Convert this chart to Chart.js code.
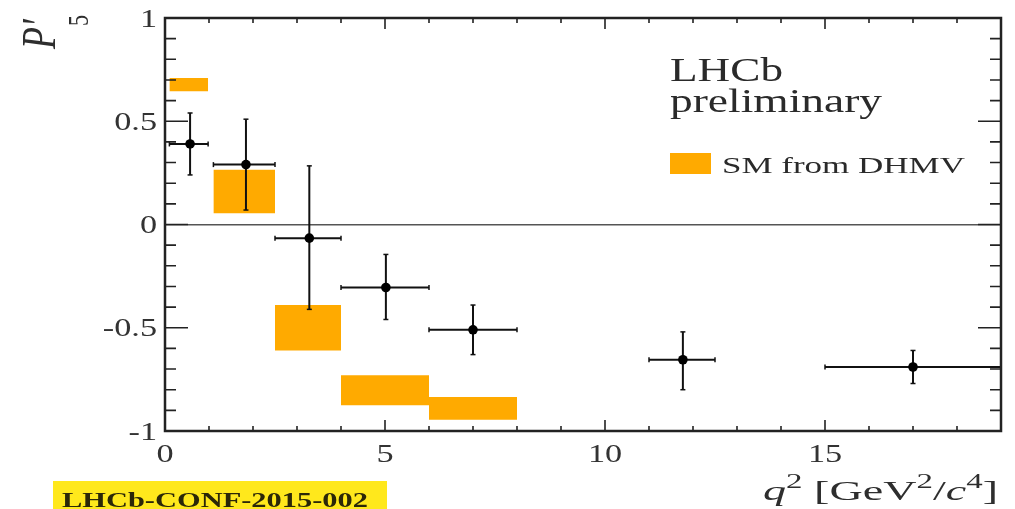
<!DOCTYPE html>
<html>
<head>
<meta charset="utf-8">
<script src="https://cdn.jsdelivr.net/npm/chart.js@4.4.1/dist/chart.umd.min.js"></script>
<style>
  html, body { margin: 0; padding: 0; background: #fff; }
  canvas { display: block; }
</style>
</head>
<body>
<canvas id="c" width="1015" height="509"></canvas>
<script>
// P5' measured in bins of q^2 [GeV^2/c^4]
const binLo  = [0.10, 1.10, 2.50, 4.00, 6.00, 11.00, 15.00];
const binHi  = [0.98, 2.50, 4.00, 6.00, 8.00, 12.50, 19.00];
const qMean  = [0.57, 1.84, 3.28, 5.02, 7.00, 11.77, 17.00];
const p5Val  = [0.39, 0.29, -0.066, -0.305, -0.51, -0.655, -0.69];
const errUp  = [0.15, 0.22, 0.35, 0.16, 0.12, 0.135, 0.08];
const errDn  = [0.15, 0.22, 0.345, 0.155, 0.12, 0.145, 0.08];

// Standard Model prediction bands (DHMV)
const smLo  = [0.10, 1.10, 2.50, 4.00, 6.00];
const smHi  = [0.98, 2.50, 4.00, 6.00, 8.00];
const smMin = [0.645, 0.055, -0.61, -0.875, -0.945];
const smMax = [0.710, 0.265, -0.39, -0.730, -0.835];

// Axis ranges and labelled tick steps
const xRange = [0, 19];
const yRange = [-1, 1];
const xMajorStep = 5;
const yMajorStep = 0.5;

const SERIF = '"Liberation Serif", "Times New Roman", serif';
const SM_COLOR = '#ffaa00';
const INK = '#111';
const HSTRETCH = 1.37;

// Short numeric labels: 1, 0.5, 0, -0.5, -1
const fmtTick = v => String(Math.round(v * 10) / 10);

// Text helper: draws horizontally stretched text; if width is given, fits it exactly.
function drawText(ctx, text, x, y, font, align, color, width) {
  ctx.save();
  ctx.font = font;
  ctx.fillStyle = color;
  ctx.textAlign = 'left';
  ctx.textBaseline = 'alphabetic';
  const natural = ctx.measureText(text).width;
  const sx = width ? width / natural : HSTRETCH;
  const w = natural * sx;
  const x0 = align === 'right' ? x - w : align === 'center' ? x - w / 2 : x;
  ctx.translate(x0, y);
  ctx.scale(sx, 1);
  ctx.fillText(text, 0, 0);
  ctx.restore();
}

// Mixed-font text run (superscripts, italics), right-aligned and fitted to width.
function drawRich(ctx, segs, xRight, baseline, width, color) {
  ctx.save();
  ctx.fillStyle = color;
  ctx.textBaseline = 'alphabetic';
  ctx.textAlign = 'left';
  let total = 0;
  segs.forEach(s => { ctx.font = s.font; s.w = ctx.measureText(s.t).width; total += s.w; });
  const sx = width / total;
  ctx.translate(xRight - width, baseline);
  ctx.scale(sx, 1);
  let cx = 0;
  segs.forEach(s => { ctx.font = s.font; ctx.fillText(s.t, cx, -(s.rise || 0)); cx += s.w; });
  ctx.restore();
}

const datasets = [];

smLo.forEach((lo, i) => {
  datasets.push({
    label: 'SM from DHMV',
    data: [{ x: lo, y: smMax[i] }, { x: smHi[i], y: smMax[i] }],
    fill: { value: smMin[i] },
    backgroundColor: SM_COLOR,
    borderColor: 'rgba(0,0,0,0)',
    borderWidth: 0,
    pointRadius: 0,
    order: 3
  });
});

binLo.forEach((lo, i) => {
  // horizontal bar: bin width
  datasets.push({
    label: 'bin',
    data: [{ x: lo, y: p5Val[i] }, { x: binHi[i], y: p5Val[i] }],
    borderColor: INK,
    borderWidth: 2,
    fill: false,
    pointStyle: 'line',
    rotation: 90,
    pointRadius: 2.5,
    pointBorderColor: INK,
    pointBorderWidth: 1.5,
    order: 2
  });
  // vertical bar: uncertainty
  datasets.push({
    label: 'err',
    data: [{ x: qMean[i], y: p5Val[i] - errDn[i] }, { x: qMean[i], y: p5Val[i] + errUp[i] }],
    borderColor: INK,
    borderWidth: 2,
    fill: false,
    pointStyle: 'line',
    rotation: 0,
    pointRadius: 2.5,
    pointBorderColor: INK,
    pointBorderWidth: 1.5,
    order: 2
  });
});

datasets.push({
  label: 'LHCb',
  data: qMean.map((x, i) => ({ x, y: p5Val[i] })),
  showLine: false,
  pointRadius: 4.8,
  pointBackgroundColor: '#000',
  pointBorderWidth: 0,
  order: 1
});

// Frame, inward ticks, tick labels and annotations
const decorations = {
  id: 'decorations',
  afterDatasetsDraw(chart) {
    const { ctx, chartArea: ca } = chart;
    const xs = chart.scales.x, ys = chart.scales.y;
    ctx.save();
    ctx.strokeStyle = '#222';
    ctx.lineWidth = 1.6;
    ctx.beginPath();
    for (let v = xRange[0]; v <= xRange[1]; v++) {
      const px = xs.getPixelForValue(v);
      const len = v % xMajorStep === 0 ? 11 : 5;
      ctx.moveTo(px, ca.bottom); ctx.lineTo(px, ca.bottom - len);
      ctx.moveTo(px, ca.top); ctx.lineTo(px, ca.top + len);
    }
    for (let k = -10; k <= 10; k++) {
      const py = ys.getPixelForValue(k / 10);
      const len = k % 5 === 0 ? 23 : 11;
      ctx.moveTo(ca.left, py); ctx.lineTo(ca.left + len, py);
      ctx.moveTo(ca.right, py); ctx.lineTo(ca.right - len, py);
    }
    ctx.stroke();
    ctx.lineWidth = 2.5;
    ctx.strokeRect(ca.left, ca.top, ca.right - ca.left, ca.bottom - ca.top);
    ctx.restore();
  },
  afterDraw(chart) {
    const { ctx, chartArea: ca } = chart;
    const xs = chart.scales.x, ys = chart.scales.y;
    const tickFont = '25px ' + SERIF;
    const tickColor = '#333';

    ys.ticks.forEach(t => {
      const py = ys.getPixelForValue(t.value);
      drawText(ctx, fmtTick(t.value), ca.left - 8, py + 8.5, tickFont, 'right', tickColor);
    });
    xs.ticks.forEach(t => {
      if (Math.abs(t.value % xMajorStep) > 1e-9) return;
      const px = xs.getPixelForValue(t.value);
      drawText(ctx, fmtTick(t.value), px, 462, tickFont, 'center', tickColor);
    });

    // x-axis title
    drawRich(ctx, [
      { t: 'q', font: 'italic 28px ' + SERIF },
      { t: '2', font: '20px ' + SERIF, rise: 12 },
      { t: ' [GeV', font: '28px ' + SERIF },
      { t: '2', font: '20px ' + SERIF, rise: 12 },
      { t: '/', font: '28px ' + SERIF },
      { t: 'c', font: 'italic 28px ' + SERIF },
      { t: '4', font: '20px ' + SERIF, rise: 12 },
      { t: ']', font: '28px ' + SERIF }
    ], 998, 500, 235, '#2e2e2e');

    // y-axis title, rotated
    ctx.save();
    ctx.fillStyle = '#2e2e2e';
    ctx.textBaseline = 'alphabetic';
    ctx.textAlign = 'left';
    ctx.translate(55, 49);
    ctx.scale(HSTRETCH, 1);
    ctx.rotate(-Math.PI / 2);
    ctx.font = 'italic 36px ' + SERIF;
    ctx.fillText('P\u2032', 0, 0);
    ctx.font = '22px ' + SERIF;
    ctx.fillText('5', 23, 24);
    ctx.restore();

    // experiment label
    drawText(ctx, 'LHCb', 670, 81, '33px ' + SERIF, 'left', '#2a2a2a', 113);
    drawText(ctx, 'preliminary', 670, 112, '33px ' + SERIF, 'left', '#2a2a2a', 212);

    // legend entry for the SM band
    ctx.save();
    ctx.fillStyle = chart.data.datasets[0].backgroundColor;
    ctx.fillRect(670, 153, 41, 21);
    ctx.restore();
    drawText(ctx, chart.data.datasets[0].label, 722, 173, '23px ' + SERIF, 'left', '#2a2a2a', 243);

    // document reference tag
    ctx.save();
    ctx.fillStyle = '#ffe81c';
    ctx.fillRect(53, 481, 334, 28);
    ctx.restore();
    drawText(ctx, 'LHCb-CONF-2015-002', 62, 507, 'bold 22px ' + SERIF, 'left', '#2b2708', 306);
  }
};

new Chart(document.getElementById('c'), {
  type: 'line',
  data: { datasets },
  options: {
    responsive: false,
    animation: false,
    events: [],
    layout: { padding: { top: 18, right: 14, left: 0, bottom: 0 } },
    plugins: { legend: { display: false }, tooltip: { enabled: false } },
    scales: {
      x: {
        type: 'linear',
        min: xRange[0], max: xRange[1],
        ticks: { display: false, stepSize: xMajorStep, includeBounds: false },
        grid: { display: false, drawTicks: false },
        border: { display: false },
        afterFit: s => { s.height = 78; }
      },
      y: {
        min: yRange[0], max: yRange[1],
        ticks: { display: false, stepSize: yMajorStep },
        grid: {
          drawTicks: false,
          lineWidth: 1.5,
          color: c => (c.tick && Math.abs(c.tick.value) < 1e-9) ? '#555' : 'rgba(0,0,0,0)'
        },
        border: { display: false },
        afterFit: s => { s.width = 165; }
      }
    }
  },
  plugins: [decorations]
});
</script>
</body>
</html>
